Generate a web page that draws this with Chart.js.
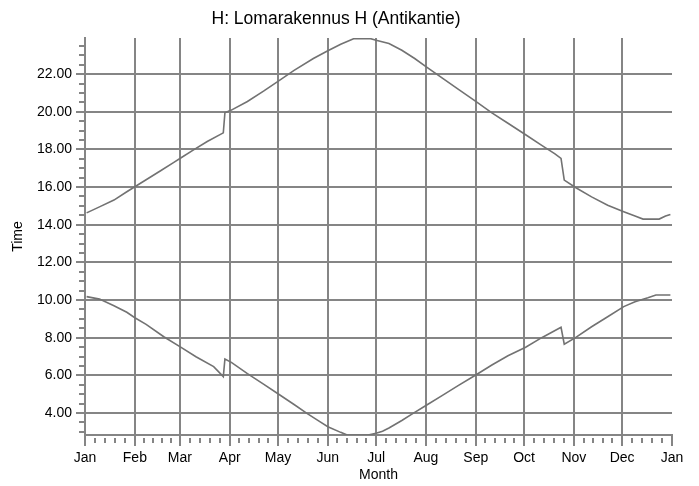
<!DOCTYPE html>
<html>
<head>
<meta charset="utf-8">
<title>H: Lomarakennus H (Antikantie)</title>
<script src="https://cdn.jsdelivr.net/npm/chart.js@4.4.1/dist/chart.umd.min.js"></script>
<style>
  html, body { margin: 0; padding: 0; background: #fff; }
  canvas { display: block; }
</style>
</head>
<body>
<canvas id="chart" width="699" height="486"></canvas>
<script>
// Month axis: day of year where each month begins, closing with next Jan
const monthStarts = [0, 31, 59, 90, 120, 151, 181, 212, 243, 273, 304, 334, 365];
const monthLabels = ['Jan', 'Feb', 'Mar', 'Apr', 'May', 'Jun', 'Jul', 'Aug', 'Sep', 'Oct', 'Nov', 'Dec', 'Jan'];
const timeTicks = [4, 6, 8, 10, 12, 14, 16, 18, 20, 22];

// Upper curve (evening), clock jumps at end of March / October
const eveningDays = [1, 9, 18, 26, 31, 38, 47, 55, 60, 67, 76, 86, 87, 91, 101, 111, 120, 130, 142, 151, 159, 167, 177, 181,
  189, 197, 205, 212, 222, 232, 243, 253, 263, 274, 284, 292, 296, 298, 305, 315, 325, 335, 342, 347, 357, 361, 364];
const eveningTimes = [14.63, 14.95, 15.31, 15.75, 16.02, 16.39, 16.87, 17.30, 17.57, 17.95, 18.42, 18.88, 19.95, 20.09, 20.55, 21.10, 21.62, 22.20, 22.83, 23.24, 23.59, 23.88, 23.9, 23.8,
  23.63, 23.27, 22.83, 22.40, 21.80, 21.20, 20.55, 19.94, 19.39, 18.78, 18.22, 17.78, 17.52, 16.37, 15.98, 15.48, 15.04, 14.69, 14.46, 14.30, 14.30, 14.46, 14.55];

// Lower curve (morning)
const morningDays = [1, 9, 18, 26, 31, 38, 49, 60, 69, 80, 86, 87, 91, 101, 111, 120, 130, 138, 146, 151, 159, 163, 176, 181,
  185, 189, 197, 204, 212, 222, 232, 243, 253, 263, 274, 284, 296, 298, 305, 315, 325, 335, 342, 350, 355, 364];
const morningTimes = [10.18, 10.05, 9.70, 9.35, 9.06, 8.71, 8.05, 7.47, 6.99, 6.46, 5.93, 6.87, 6.69, 6.09, 5.53, 5.02, 4.45, 3.98, 3.54, 3.27, 2.97, 2.83, 2.83, 2.92,
  3.03, 3.20, 3.60, 3.98, 4.40, 4.92, 5.45, 6.02, 6.55, 7.04, 7.49, 8.00, 8.55, 7.65, 8.00, 8.58, 9.11, 9.65, 9.91, 10.12, 10.27, 10.27];

const GRID = '#858585';
const LINE = '#727272';
const FONT = 'Liberation Sans, Arial, sans-serif';

const toPoints = (days, times) => days.map((d, i) => ({ x: d, y: times[i] }));

// short minor ticks every 0.5 h and every fifth of a month, longer major ones
const tickMarks = {
  id: 'tickMarks',
  afterDraw(chart) {
    const { ctx, chartArea: area, scales: { x, y } } = chart;
    ctx.save();
    ctx.strokeStyle = GRID;
    ctx.lineWidth = 2;
    ctx.beginPath();
    for (let v = 3; v <= 23.5; v += 0.5) {
      const py = Math.round(y.getPixelForValue(v));
      const major = timeTicks.includes(v);
      ctx.moveTo(area.left - (major ? 9 : 6), py);
      ctx.lineTo(area.left, py);
    }
    monthStarts.forEach((start, i) => {
      const px = Math.round(x.getPixelForValue(start));
      ctx.moveTo(px, area.bottom);
      ctx.lineTo(px, area.bottom + 11);
      const next = monthStarts[i + 1];
      if (next === undefined) return;
      for (let k = 1; k < 5; k++) {
        const mx = Math.round(x.getPixelForValue(start + (next - start) * k / 5));
        ctx.moveTo(mx, area.bottom + 3);
        ctx.lineTo(mx, area.bottom + 8);
      }
    });
    ctx.stroke();
    ctx.restore();
  }
};

new Chart(document.getElementById('chart'), {
  type: 'line',
  data: {
    datasets: [
      { data: toPoints(eveningDays, eveningTimes), borderColor: LINE, borderWidth: 1.6, pointRadius: 0, tension: 0, fill: false },
      { data: toPoints(morningDays, morningTimes), borderColor: LINE, borderWidth: 1.6, pointRadius: 0, tension: 0, fill: false }
    ]
  },
  options: {
    responsive: false,
    animation: false,
    devicePixelRatio: 1,
    layout: { padding: { top: 0, right: 27, bottom: 0, left: 0 } },
    plugins: {
      legend: { display: false },
      tooltip: { enabled: false },
      title: {
        display: true,
        text: 'H: Lomarakennus H (Antikantie)',
        color: '#000',
        font: { family: FONT, size: 17.5, weight: 'normal' },
        padding: { top: 9, bottom: 8 }
      }
    },
    scales: {
      x: {
        type: 'linear',
        min: 0,
        max: 365,
        afterBuildTicks: scale => { scale.ticks = monthStarts.map(v => ({ value: v })); },
        afterFit: scale => { scale.height = 51; },
        ticks: {
          autoSkip: false,
          maxRotation: 0,
          padding: 15,
          color: '#000',
          font: { family: FONT, size: 14 },
          callback: (v, i) => monthLabels[i]
        },
        grid: {
          drawTicks: false,
          lineWidth: 2,
          color: c => (c.tick && c.tick.value === 365 ? 'rgba(0,0,0,0)' : GRID)
        },
        border: { display: true, color: GRID, width: 2 },
        title: {
          display: true,
          text: 'Month',
          color: '#000',
          font: { family: FONT, size: 14 },
          padding: { top: 0, bottom: 2 }
        }
      },
      y: {
        type: 'linear',
        min: 2.83,
        max: 23.92,
        afterBuildTicks: scale => { scale.ticks = timeTicks.map(v => ({ value: v })); },
        afterFit: scale => { scale.width = 85; },
        ticks: {
          padding: 13,
          color: '#000',
          font: { family: FONT, size: 14 },
          callback: v => v.toFixed(2)
        },
        grid: { drawTicks: false, lineWidth: 2, color: GRID },
        border: { display: true, color: GRID, width: 2 },
        title: {
          display: true,
          text: 'Time',
          color: '#000',
          font: { family: FONT, size: 14 },
          padding: { top: 10, bottom: 0 }
        }
      }
    }
  },
  plugins: [tickMarks]
});
</script>
</body>
</html>
